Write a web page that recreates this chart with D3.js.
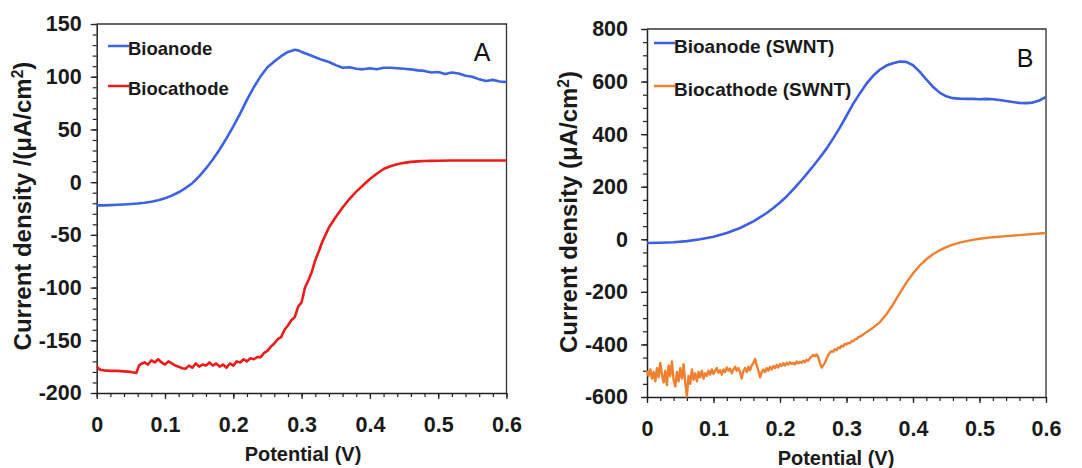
<!DOCTYPE html>
<html><head><meta charset="utf-8">
<script src="https://cdn.jsdelivr.net/npm/d3@7"></script>
<style>body{margin:0;background:#fff}svg{display:block}text{font-family:"Liberation Sans",Arial,sans-serif}</style>
</head><body><svg id="c" width="1082" height="468"></svg>
<script>
// ---------- DATA ----------
const xTicks = [0, 0.1, 0.2, 0.3, 0.4, 0.5, 0.6];
const yTicksA = [-200, -150, -100, -50, 0, 50, 100, 150];
const yTicksB = [-600, -400, -200, 0, 200, 400, 600, 800];
const seriesNamesA = ["Bioanode", "Biocathode"];
const seriesNamesB = ["Bioanode (SWNT)", "Biocathode (SWNT)"];
const xTitle = "Potential (V)";

const anodeA = [[0,-22],[0.01,-22],[0.02,-21.8],[0.03,-21.5],[0.04,-21.2],[0.05,-20.8],[0.06,-20.3],[0.07,-19.6],[0.08,-18.6],[0.09,-17.2],[0.10,-15.3],[0.11,-12.8],[0.12,-9.6],[0.13,-5.7],[0.14,-1],[0.15,5.5],[0.16,13],[0.17,21.5],[0.18,31],[0.19,41.5],[0.20,53],[0.21,65],[0.22,78],[0.23,90],[0.24,100.5],[0.25,109],[0.26,114.5],[0.27,119.5],[0.28,123.5],[0.29,125.5],[0.295,125],[0.30,123.5],[0.31,121],[0.32,118.5],[0.33,116],[0.34,114],[0.35,111],[0.36,108.5],[0.37,109],[0.38,107.5],[0.39,107],[0.40,108],[0.41,107],[0.42,108.5],[0.43,108.5],[0.44,108],[0.45,107.5],[0.46,107],[0.47,106],[0.48,105.5],[0.49,104],[0.50,104.5],[0.51,102.5],[0.52,104],[0.53,103],[0.54,101],[0.55,100],[0.56,97.5],[0.57,96],[0.58,97],[0.59,95.5],[0.60,95]];

const cathodeA = [[0,-175],[0.005,-178],[0.01,-178.5],[0.02,-179],[0.03,-179],[0.04,-179.5],[0.05,-180],[0.058,-181],[0.062,-174],[0.066,-172],[0.07,-171],[0.075,-173],[0.08,-169],[0.085,-171],[0.09,-168],[0.095,-171],[0.10,-173],[0.105,-170],[0.11,-172],[0.115,-174],[0.12,-175],[0.125,-176.5],[0.13,-177],[0.135,-174],[0.14,-176],[0.145,-172],[0.15,-175],[0.155,-173],[0.16,-174],[0.165,-171],[0.17,-174],[0.175,-172],[0.18,-175],[0.185,-173],[0.19,-176],[0.195,-172],[0.20,-174],[0.205,-170],[0.21,-171],[0.215,-168],[0.22,-170],[0.225,-167],[0.23,-168],[0.235,-166],[0.24,-166],[0.245,-162],[0.25,-160],[0.255,-156],[0.26,-153],[0.265,-149],[0.27,-147],[0.275,-140],[0.28,-136],[0.285,-131],[0.29,-128],[0.295,-118],[0.30,-114],[0.305,-100],[0.31,-93],[0.315,-85],[0.32,-74],[0.325,-66],[0.33,-57],[0.335,-50],[0.34,-43],[0.35,-33],[0.36,-24],[0.37,-16],[0.38,-9],[0.39,-3],[0.40,3],[0.41,8],[0.42,12.5],[0.43,15],[0.44,17],[0.45,18.3],[0.46,19.2],[0.47,19.7],[0.48,20],[0.49,20.2],[0.50,20.3],[0.52,20.5],[0.54,20.5],[0.56,20.5],[0.58,20.6],[0.60,20.6]];

const anodeB = [[0,-14],[0.02,-13],[0.04,-11],[0.06,-7],[0.08,0],[0.10,10],[0.12,24],[0.14,43],[0.16,68],[0.18,100],[0.19,119],[0.20,140],[0.21,163],[0.22,190],[0.23,218],[0.24,248],[0.25,279],[0.26,311],[0.27,345],[0.28,384],[0.29,425],[0.30,470],[0.31,515],[0.32,555],[0.33,592],[0.34,622],[0.35,645],[0.36,661],[0.37,670],[0.38,676],[0.39,675],[0.40,662],[0.41,638],[0.42,608],[0.43,580],[0.44,558],[0.45,544],[0.46,537],[0.47,535],[0.48,534],[0.49,534],[0.50,533],[0.51,534],[0.52,533],[0.53,530],[0.54,526],[0.55,522],[0.56,519],[0.57,518],[0.58,520],[0.59,528],[0.60,542]];

const cathodeB = [[0,-500],[0.0025,-520],[0.005,-495],[0.0075,-530],[0.01,-505],[0.0125,-540],[0.015,-490],[0.0175,-525],[0.02,-470],[0.0225,-515],[0.025,-545],[0.0275,-500],[0.03,-555],[0.0325,-480],[0.035,-520],[0.0375,-465],[0.04,-535],[0.0425,-560],[0.045,-505],[0.0475,-540],[0.05,-490],[0.0525,-530],[0.055,-475],[0.0575,-545],[0.06,-598],[0.0625,-520],[0.065,-550],[0.0675,-495],[0.07,-535],[0.0725,-510],[0.075,-540],[0.0775,-505],[0.08,-525],[0.0825,-500],[0.085,-530],[0.0875,-510],[0.09,-520],[0.0925,-500],[0.095,-515],[0.0975,-495],[0.10,-512],[0.1025,-500],[0.105,-490],[0.1075,-508],[0.11,-498],[0.1125,-515],[0.115,-495],[0.1175,-505],[0.12,-488],[0.1225,-500],[0.125,-492],[0.1275,-510],[0.13,-495],[0.1325,-485],[0.135,-500],[0.1375,-490],[0.14,-505],[0.1425,-530],[0.145,-500],[0.1475,-490],[0.15,-505],[0.1525,-485],[0.155,-498],[0.1575,-480],[0.16,-470],[0.1625,-455],[0.165,-480],[0.1675,-500],[0.17,-525],[0.1725,-505],[0.175,-495],[0.1775,-505],[0.18,-490],[0.1825,-500],[0.185,-485],[0.1875,-495],[0.19,-482],[0.1925,-490],[0.195,-478],[0.1975,-488],[0.20,-475],[0.2025,-482],[0.205,-472],[0.2075,-480],[0.21,-470],[0.2125,-477],[0.215,-468],[0.2175,-474],[0.22,-470],[0.2225,-476],[0.225,-465],[0.2275,-472],[0.23,-466],[0.2325,-470],[0.235,-462],[0.2375,-468],[0.24,-458],[0.2425,-462],[0.245,-452],[0.2475,-446],[0.25,-440],[0.2525,-445],[0.255,-438],[0.2575,-448],[0.26,-470],[0.2625,-488],[0.265,-480],[0.2675,-470],[0.27,-455],[0.2725,-440],[0.275,-432],[0.2775,-425],[0.28,-428],[0.2825,-418],[0.285,-422],[0.2875,-412],[0.29,-415],[0.2925,-405],[0.295,-408],[0.2975,-398],[0.30,-400],[0.3025,-394],[0.305,-396],[0.3075,-388],[0.31,-388],[0.3125,-381],[0.315,-380],[0.3175,-372],[0.32,-371],[0.325,-362],[0.33,-354],[0.335,-345],[0.34,-336],[0.35,-316],[0.36,-285],[0.37,-248],[0.38,-206],[0.39,-165],[0.40,-130],[0.41,-100],[0.42,-76],[0.43,-57],[0.44,-42],[0.45,-30],[0.46,-20],[0.47,-13],[0.48,-7],[0.49,-2],[0.50,2],[0.52,8],[0.54,12],[0.56,16],[0.58,20],[0.60,24]];

// ---------- DRAW ----------
const svg = d3.select("#c");
const FONT = '"Liberation Sans", Arial, sans-serif';

function panel(cfg) {
  const x = d3.scaleLinear().domain([0, 0.6]).range([cfg.left, cfg.right]);
  const y = d3.scaleLinear().domain(cfg.yDomain).range([cfg.bottom, cfg.top]);
  const g = svg.append("g");

  // frame (top/right)
  g.append("path")
    .attr("d", `M${cfg.left},${cfg.top}H${cfg.right}V${cfg.bottom}`)
    .attr("fill", "none").attr("stroke", "#333").attr("stroke-width", 1.3);

  // minor ticks
  const xMinor = d3.range(0, 0.6001, 0.02);
  const yMinor = d3.range(cfg.yDomain[0], cfg.yDomain[1] + 0.001, cfg.yMinor);
  g.append("g").attr("transform", `translate(0,${cfg.bottom})`)
    .call(d3.axisBottom(x).tickValues(xMinor).tickSize(4).tickFormat(""))
    .call(a => a.select(".domain").remove())
    .selectAll("line").attr("stroke", "#222").attr("stroke-width", 1.2);
  g.append("g").attr("transform", `translate(${cfg.left},0)`)
    .call(d3.axisLeft(y).tickValues(yMinor).tickSize(4).tickFormat(""))
    .call(a => a.select(".domain").remove())
    .selectAll("line").attr("stroke", "#222").attr("stroke-width", 1.2);

  // major axes
  const xa = g.append("g").attr("transform", `translate(0,${cfg.bottom})`)
    .call(d3.axisBottom(x).tickValues(xTicks).tickSize(6).tickPadding(18)
      .tickFormat(d => d === 0 ? "0" : d3.format(".1f")(d)).tickSizeOuter(0));
  const ya = g.append("g").attr("transform", `translate(${cfg.left},0)`)
    .call(d3.axisLeft(y).tickValues(cfg.yTicks).tickSize(6).tickPadding(cfg.yPad)
      .tickFormat(d => String(d)).tickSizeOuter(0));
  [xa, ya].forEach(a => {
    a.select(".domain").attr("stroke", "#222").attr("stroke-width", 1.5);
    a.selectAll("line").attr("stroke", "#222").attr("stroke-width", 1.3);
    a.selectAll("text").attr("font-family", FONT).attr("font-weight", "bold")
      .attr("font-size", 21.5).attr("fill", "#1a1a1a");
  });

  // series
  const line = d3.line().x(d => x(d[0])).y(d => y(d[1])).curve(d3.curveLinear);
  cfg.series.forEach(s => {
    g.append("path").datum(s.data).attr("d", line)
      .attr("fill", "none").attr("stroke", s.color).attr("stroke-width", s.w)
      .attr("stroke-linejoin", "round");
  });

  // legend
  cfg.series.forEach((s, i) => {
    const ly = cfg.legY[i];
    g.append("line").attr("x1", cfg.legX).attr("x2", cfg.legX + 21)
      .attr("y1", ly).attr("y2", ly).attr("stroke", s.color).attr("stroke-width", 2.5);
    g.append("text").attr("x", cfg.legX + 20).attr("y", cfg.legBase[i])
      .attr("font-family", FONT).attr("font-weight", "bold").attr("font-size", cfg.legSize)
      .attr("fill", "#1a1a1a").text(s.name);
  });

  // panel letter
  g.append("text").attr("x", cfg.letterX).attr("y", cfg.letterY).attr("text-anchor", "middle")
    .attr("font-family", FONT).attr("font-size", 25).attr("fill", "#111").text(cfg.letter);

  // x title
  g.append("text").attr("x", cfg.xTitleX).attr("y", cfg.xTitleY).attr("text-anchor", "middle")
    .attr("font-family", FONT).attr("font-weight", "bold").attr("font-size", 20)
    .attr("fill", "#1a1a1a").text(xTitle);

  // y title
  const yt = g.append("text").attr("text-anchor", "middle")
    .attr("transform", `translate(${cfg.yTitleX},${cfg.yTitleY}) rotate(-90)`)
    .attr("font-family", FONT).attr("font-weight", "bold").attr("font-size", cfg.yTitleSize)
    .attr("fill", "#1a1a1a");
  yt.append("tspan").text(cfg.yTitle[0]);
  yt.append("tspan").attr("baseline-shift", "super").attr("font-size", cfg.yTitleSize * 0.65).text("2");
  yt.append("tspan").text(")");
}

panel({
  left: 96.7, right: 506.5, top: 24, bottom: 393,
  yDomain: [-200, 150], yTicks: yTicksA, yMinor: 10, yPad: 9,
  series: [
    {name: seriesNamesA[0], data: anodeA, color: "#3d63e3", w: 2.6},
    {name: seriesNamesA[1], data: cathodeA, color: "#ea1c1c", w: 2.6}
  ],
  legX: 108, legY: [46, 86], legBase: [55, 95], legSize: 18.5,
  letter: "A", letterX: 482, letterY: 61,
  xTitleX: 303, xTitleY: 461,
  yTitle: ["Current density /(\u03bcA/cm"], yTitleX: 31, yTitleY: 206, yTitleSize: 24
});

panel({
  left: 647, right: 1046, top: 29, bottom: 397,
  yDomain: [-600, 800], yTicks: yTicksB, yMinor: 50, yPad: 13,
  series: [
    {name: seriesNamesB[0], data: anodeB, color: "#3d5fe0", w: 2.6},
    {name: seriesNamesB[1], data: cathodeB, color: "#ef8030", w: 2.4}
  ],
  legX: 654, legY: [43, 86], legBase: [53, 96], legSize: 19,
  letter: "B", letterX: 1025, letterY: 67,
  xTitleX: 836, xTitleY: 465,
  yTitle: ["Current density (\u03bcA/cm"], yTitleX: 577, yTitleY: 212, yTitleSize: 24
});
</script></body></html>
